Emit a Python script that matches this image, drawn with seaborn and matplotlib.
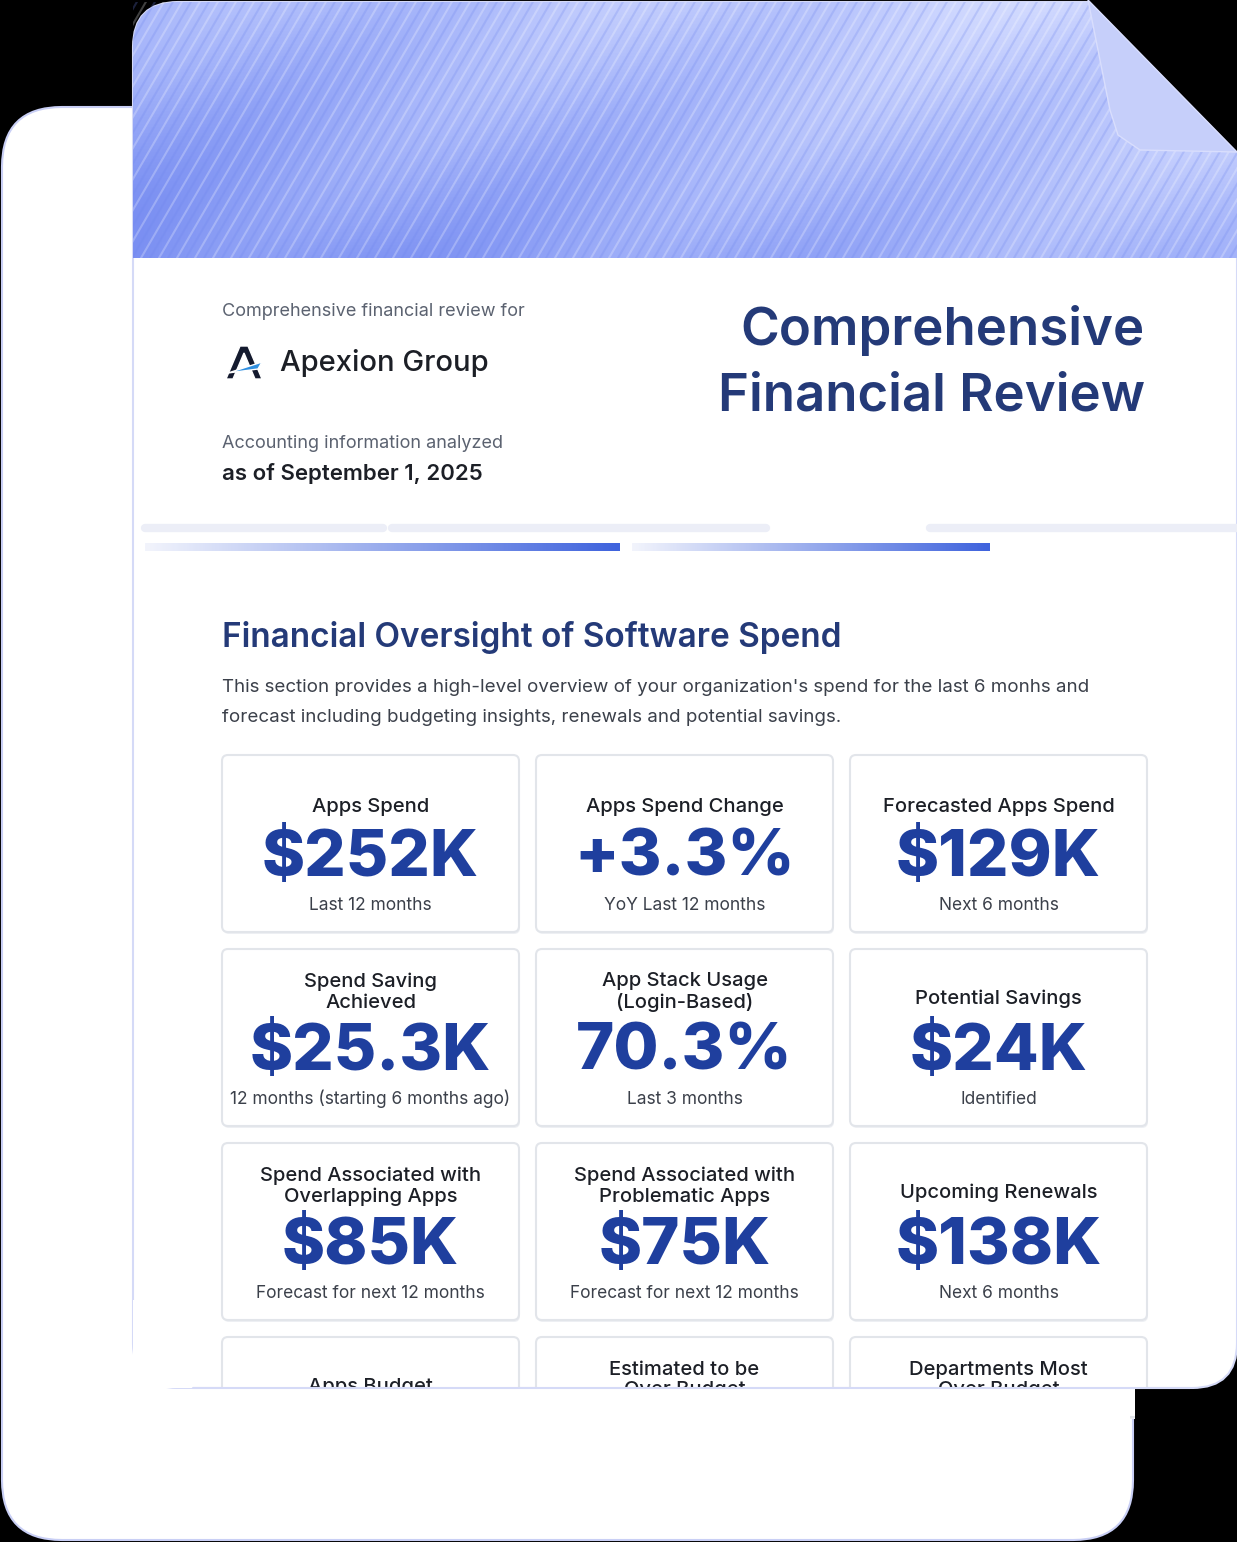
import numpy as np
import matplotlib
matplotlib.use("Agg")
import matplotlib.pyplot as plt
import seaborn as sns
from matplotlib.patches import FancyBboxPatch, Rectangle, Polygon

sns.set_theme(style="white")
plt.rcParams["font.family"] = ["Inter", "DejaVu Sans"]

NAVY = "#243a78"
BLUE = "#1f3f9e"
GRAY = "#5b6270"
DARK = "#1c1f26"

COMPANY = "Apexion Group"
REPORT_DATE = "as of September 1, 2025"
SECTION = "Financial Oversight of Software Spend"
INTRO = ["This section provides a high-level overview of your organization's spend for the last 6 monhs and",
         "forecast including budgeting insights, renewals and potential savings."]

CARD_TITLES = ["Apps Spend", "Apps Spend Change", "Forecasted Apps Spend",
               "Spend Saving\nAchieved", "App Stack Usage\n(Login-Based)", "Potential Savings",
               "Spend Associated with\nOverlapping Apps", "Spend Associated with\nProblematic Apps", "Upcoming Renewals",
               "Apps Budget", "Estimated to be\nOver Budget", "Departments Most\nOver Budget"]
CARD_VALUES = ["$252K", "+3.3%", "$129K",
               "$25.3K", "70.3%", "$24K",
               "$85K", "$75K", "$138K",
               "", "", ""]
CARD_NOTES = ["Last 12 months", "YoY Last 12 months", "Next 6 months",
              "12 months (starting 6 months ago)", "Last 3 months", "Identified",
              "Forecast for next 12 months", "Forecast for next 12 months", "Next 6 months",
              "", "", ""]

W, H = 1237, 1542
fig = plt.figure(figsize=(W / 100, H / 100), dpi=100, facecolor="black")
ax = fig.add_axes([0, 0, 1, 1])
ax.set_xlim(0, W)
ax.set_ylim(H, 0)
ax.axis("off")
ax.set_facecolor("black")

# back card
ax.add_patch(FancyBboxPatch((2, 107), 1131, 1433, boxstyle="round,pad=0,rounding_size=60",
                            fc="white", ec="#c9cff5", lw=1.5, zorder=1))
# front card
front = FancyBboxPatch((133, 2), 1104, 1386, boxstyle="round,pad=0,rounding_size=45",
                       fc="white", ec="#d5daf7", lw=1.5, zorder=2)
ax.add_patch(front)
ax.add_patch(Rectangle((133, 1300), 60, 88, fc="white", ec="none", zorder=2))

# banner gradient
gx = np.linspace(0, 1, 300)
gy = np.linspace(0, 1, 80)
X, Y = np.meshgrid(gx, gy)
val = 0.55 * X + 0.45 * (1 - Y) + 0.12 * np.sin(X * 18 + Y * 6)
cmap = sns.blend_palette(["#7a8ff2", "#a7b6fa", "#d2daff"], as_cmap=True)
im = ax.imshow(val, extent=(133, 1237, 258, 2), cmap=cmap, aspect="auto", zorder=3)
im.set_clip_path(front)
for i, x0 in enumerate(np.arange(120, 1400, 9)):
    ln, = ax.plot([x0, x0 - 150], [0, 258], color="white" if i % 2 else "#6f86ee",
                  alpha=0.25, lw=1.5, zorder=4)
    ln.set_clip_path(Rectangle((133, 2), 1104, 256, transform=ax.transData))
# folded corner
ax.add_patch(Polygon([(1088, 0), (1237, 0), (1237, 152)], fc="black", ec="none", zorder=5))
ax.add_patch(Polygon([(1088, 0), (1237, 152), (1140, 150), (1118, 135), (1110, 110)],
                     fc="#c6cffa", ec="#d9defd", zorder=6))

# header
ax.text(222, 311, "Comprehensive financial review for", fontsize=13, color=GRAY, va="center", zorder=7)
ax.add_patch(Polygon([(226, 379), (240, 346), (248, 346), (262, 379), (255, 379), (244, 353), (233, 379)],
                     fc="#141a2e", zorder=7))
ax.add_patch(Polygon([(228, 373), (262, 362), (258, 369)], fc="#2f8fe0", zorder=8))
ax.text(280, 363, COMPANY, fontsize=21, color=DARK, va="center", fontweight="medium", zorder=7)
ax.text(222, 443, "Accounting information analyzed", fontsize=13, color=GRAY, va="center", zorder=7)
ax.text(222, 474, REPORT_DATE, fontsize=16, color=DARK, va="center", fontweight="semibold", zorder=7)
ax.text(1145, 330, "Comprehensive", fontsize=38, color=NAVY, ha="right", va="center", fontweight="semibold", zorder=7)
ax.text(1145, 397, "Financial Review", fontsize=38, color=NAVY, ha="right", va="center", fontweight="semibold", zorder=7)

# progress bars
for x0, x1 in [(145, 383), (392, 766), (930, 1237)]:
    ax.plot([x0, x1], [528, 528], color="#eceef7", lw=6, solid_capstyle="round", zorder=7)
grad_cmap = sns.blend_palette(["#f2f4fc", "#3f63dd"], as_cmap=True)
for x0, x1 in [(145, 620), (632, 990)]:
    ax.imshow(np.linspace(0, 1, 200)[None, :], extent=(x0, x1, 551, 543), cmap=grad_cmap,
              aspect="auto", zorder=7, interpolation="bilinear")

ax.text(222, 637, SECTION, fontsize=24, color=NAVY, va="center", fontweight="semibold", zorder=7)
for k, line in enumerate(INTRO):
    ax.text(222, 687 + 30 * k, line, fontsize=13.5, color="#3b404a", va="center", zorder=7)

# cards
col_x = [222, 536, 850]
row_y = [755, 949, 1143, 1337]
cw = 297
for idx, title in enumerate(CARD_TITLES):
    r, c = divmod(idx, 3)
    x0, y0 = col_x[c], row_y[r]
    ch = 177 if r < 3 else 80
    cx = x0 + cw / 2
    ax.add_patch(FancyBboxPatch((x0 + 1, y0 + 2), cw, ch, boxstyle="round,pad=0,rounding_size=6",
                                fc="#eef0f4", ec="none", zorder=6))
    ax.add_patch(FancyBboxPatch((x0, y0), cw, ch, boxstyle="round,pad=0,rounding_size=6",
                                fc="white", ec="#e2e5ea", lw=1.5, zorder=7))
    if "\n" in title:
        ax.text(cx, y0 + 43, title, fontsize=14.5, color=DARK, ha="center", va="center",
                linespacing=1.2, fontweight="medium", zorder=8)
    else:
        ax.text(cx, y0 + (52 if r == 0 else 50), title, fontsize=14.5, color=DARK,
                ha="center", va="center", fontweight="medium", zorder=8)
    if CARD_VALUES[idx]:
        ax.text(cx, y0 + 104, CARD_VALUES[idx], fontsize=47, color=BLUE, ha="center",
                va="center", fontweight="heavy", zorder=8)
        ax.text(cx, y0 + 150, CARD_NOTES[idx], fontsize=12.5, color="#3b404a", ha="center",
                va="center", zorder=8)

# cut the last card row at the front card's bottom edge
ax.add_patch(Rectangle((140, 1389), 990, 40, fc="white", ec="none", zorder=9))
ax.add_patch(Rectangle((1135, 1389), 60, 40, fc="black", ec="none", zorder=9))
ax.plot([193, 1190], [1388, 1388], color="#d5daf7", lw=1.5, zorder=10)

fig.savefig("out.png", dpi=100, facecolor="black")
